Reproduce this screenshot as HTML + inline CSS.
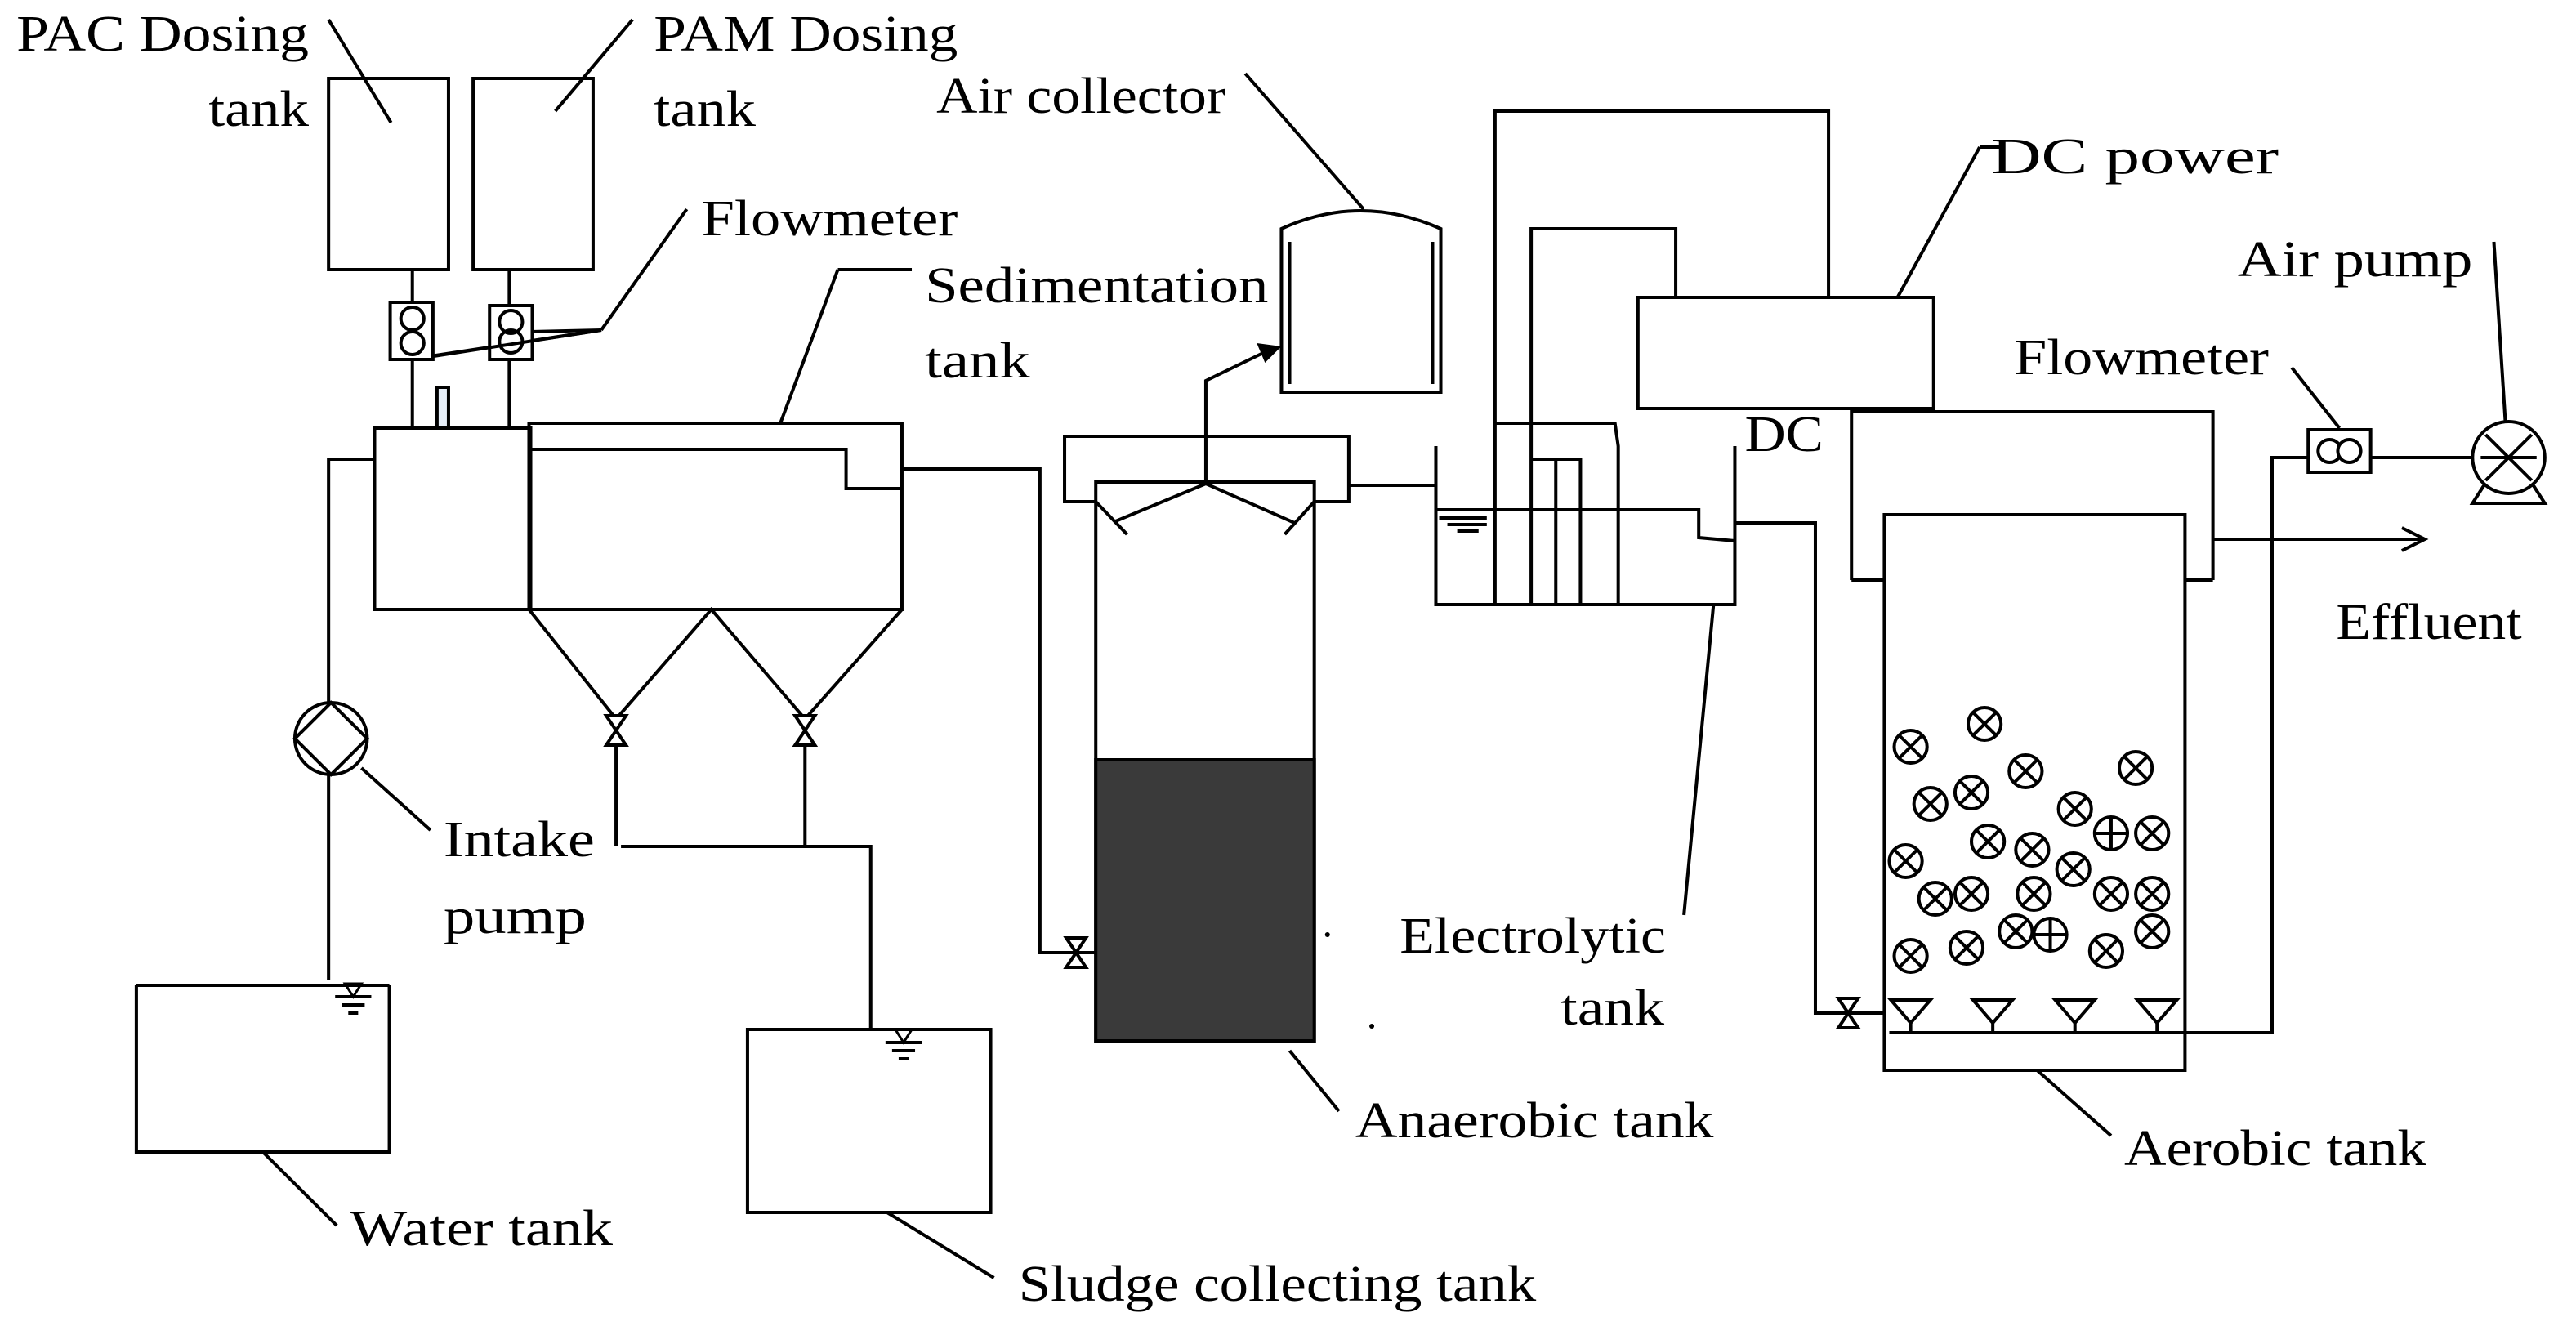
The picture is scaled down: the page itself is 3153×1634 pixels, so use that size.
<!DOCTYPE html>
<html><head><meta charset="utf-8"><style>
html,body{margin:0;padding:0;background:#fff;}
svg{display:block;}
text{font-family:"Liberation Serif",serif;font-size:31px;fill:#000;}
</style></head><body>
<svg width="3153" height="1634" viewBox="0 0 1568 817" preserveAspectRatio="none" xmlns="http://www.w3.org/2000/svg">
<defs>
<g id="m"><circle r="10" fill="#fff" stroke="#000" stroke-width="2"/><line x1="-7" y1="-7" x2="7" y2="7" stroke="#000" stroke-width="2"/><line x1="-7" y1="7" x2="7" y2="-7" stroke="#000" stroke-width="2"/></g>
<g id="mp"><circle r="10" fill="#fff" stroke="#000" stroke-width="2"/><line x1="-10" y1="0" x2="10" y2="0" stroke="#000" stroke-width="2"/><line x1="0" y1="-10" x2="0" y2="10" stroke="#000" stroke-width="2"/></g>
<g id="vv"><path d="M-6,-9 L6,-9 L-6,9 L6,9 Z" fill="#fff" stroke="#000" stroke-width="2"/></g>
<g id="wl"><line x1="-11" y1="0" x2="11" y2="0" stroke="#000" stroke-width="2"/><line x1="-7" y1="5" x2="7" y2="5" stroke="#000" stroke-width="2"/><line x1="-3" y1="10" x2="3" y2="10" stroke="#000" stroke-width="2"/><path d="M0,0 L-5,-8 L5,-8 Z" fill="none" stroke="#000" stroke-width="1.5"/></g>
<g id="df"><path d="M-12,0 L12,0 L0,14 Z" fill="#fff" stroke="#000" stroke-width="2"/><line x1="0" y1="14" x2="0" y2="20" stroke="#000" stroke-width="2"/></g>
</defs>
<g fill="none" stroke="#000" stroke-width="2">
<!-- dosing tanks -->
<rect x="200" y="48" width="73" height="117"/>
<rect x="288" y="48" width="73" height="117"/>
<line x1="200" y1="12" x2="238" y2="75"/>
<line x1="385" y1="12" x2="338" y2="68"/>
<line x1="251" y1="165" x2="251" y2="262"/>
<line x1="310" y1="165" x2="310" y2="262"/>
<line x1="418" y1="128" x2="366" y2="202"/>
<line x1="366" y1="202" x2="262" y2="218"/>
<line x1="366" y1="202" x2="323" y2="203"/>
<!-- mixing + sedimentation -->
<rect x="228" y="262" width="95" height="111"/>
<rect x="266" y="237" width="7" height="25" fill="#e6eef8"/>
<rect x="322" y="259" width="227" height="114"/>
<polyline points="323,275 515,275 515,299 549,299"/>
<line x1="475" y1="259" x2="510" y2="165"/>
<line x1="510" y1="165" x2="555" y2="165"/>
<polyline points="322,373 375,440 433,373 490,440 549,373"/>
<line x1="375" y1="440" x2="375" y2="518"/>
<line x1="490" y1="440" x2="490" y2="518"/>
<polyline points="378,518 530,518 530,630"/>
<rect x="455" y="630" width="148" height="112"/>
<line x1="540" y1="742" x2="605" y2="782"/>
<!-- intake -->
<polyline points="228,281 200,281 200,600"/>
<circle cx="201.5" cy="452" r="22" fill="#fff"/>
<path d="M201.5,430 L223.5,452 L201.5,474 L179.5,452 Z"/>
<line x1="220" y1="470" x2="262" y2="508"/>
<polyline points="83,603 83,705 237,705 237,603"/>
<line x1="83" y1="603" x2="237" y2="603"/>
<line x1="160" y1="705" x2="205" y2="750"/>
<!-- to anaerobic -->
<polyline points="549,287 633,287 633,583 668,583"/>
<polyline points="667,307 648,307 648,267 821,267 821,307 800,307"/>
<rect x="667" y="295" width="133" height="342"/>
<rect x="667" y="465" width="133" height="172" fill="#3a3a3a"/>
<polyline points="679,319 734,296 788,320"/>
<line x1="667" y1="307" x2="686" y2="327"/>
<line x1="800" y1="307" x2="782" y2="327"/>
<polyline points="734,296 734,233 775,213"/>
<path d="M780,140 Q828,118 877,140 L877,240 L780,240 Z" fill="#fff"/>
<line x1="785" y1="148" x2="785" y2="235"/>
<line x1="872" y1="148" x2="872" y2="235"/>
<line x1="758" y1="45" x2="830" y2="128"/>
<line x1="785" y1="643" x2="815" y2="680"/>
<line x1="821" y1="297" x2="874" y2="297"/>
<!-- electrolytic -->
<polyline points="874,273 874,370 1056,370 1056,273"/>
<polyline points="874,312 1034,312 1034,329 1056,331"/>
<polyline points="910,370 910,68 1113,68 1113,182"/>
<polyline points="932,370 932,140 1020,140 1020,182"/>
<polyline points="910,259 983,259 985,273 985,370"/>
<polyline points="932,281 962,281 962,370"/>
<line x1="947" y1="281" x2="947" y2="370"/>
<rect x="997" y="182" width="180" height="68" fill="#fff"/>
<line x1="1155" y1="182" x2="1205" y2="90"/>
<line x1="1205" y1="90" x2="1220" y2="90"/>
<polyline points="1056,320 1105,320 1105,620 1148,620"/>
<line x1="1043" y1="370" x2="1025" y2="560"/>
<!-- aerobic -->
<polyline points="1127,355 1127,252 1347,252 1347,355"/>
<line x1="1127" y1="355" x2="1147" y2="355"/>
<line x1="1330" y1="355" x2="1347" y2="355"/>
<rect x="1147" y="315" width="183" height="340"/>
<line x1="1347" y1="330" x2="1475" y2="330"/>
<path d="M1462,323 L1476,330 L1462,337"/>
<polyline points="1150,632 1383,632 1383,280 1405,280"/>
<line x1="1443" y1="280" x2="1505" y2="280"/>
<path d="M1512,297 L1505,308 L1549,308 L1542,297"/>
<circle cx="1527" cy="280" r="22" fill="#fff"/>
<line x1="1513" y1="266" x2="1541" y2="294"/>
<line x1="1513" y1="294" x2="1541" y2="266"/>
<line x1="1510" y1="280" x2="1544" y2="280"/>
<line x1="1518" y1="148" x2="1525" y2="258"/>
<line x1="1395" y1="225" x2="1424" y2="262"/>
<line x1="1240" y1="655" x2="1285" y2="695"/>
</g>
<path d="M765,210 L780,212 L770,222 Z" fill="#000"/>
<g fill="#fff" stroke="#000" stroke-width="2">
<rect x="237.5" y="185" width="26" height="35"/>
<circle cx="251" cy="195" r="7"/><circle cx="251" cy="210" r="7"/>
<rect x="298" y="187" width="26" height="33"/>
<circle cx="311" cy="197" r="7"/><circle cx="311" cy="209" r="7" fill="none"/>
<rect x="1405" y="263" width="38" height="26"/>
<circle cx="1418" cy="276" r="7"/><circle cx="1430" cy="276" r="7"/>
</g>
<line x1="264" y1="218" x2="366" y2="202" stroke="#000" stroke-width="2"/>
<use href="#vv" x="375" y="447"/><use href="#vv" x="490" y="447"/>
<use href="#vv" x="655" y="583"/><use href="#vv" x="1125" y="620"/>
<use href="#wl" x="550" y="638"/><use href="#wl" x="215" y="610"/>
<g stroke="#000" stroke-width="2"><line x1="876" y1="317" x2="905" y2="317"/><line x1="881" y1="321" x2="905" y2="321"/><line x1="887" y1="325" x2="900" y2="325"/></g>
<use href="#df" x="1163" y="612"/><use href="#df" x="1213" y="612"/><use href="#df" x="1263" y="612"/><use href="#df" x="1313" y="612"/>
<circle cx="808" cy="572" r="1.5" fill="#000"/><circle cx="835" cy="628" r="1.5" fill="#000"/>
<use href="#m" x="1163" y="457"/><use href="#m" x="1208" y="443"/><use href="#m" x="1233" y="472"/><use href="#m" x="1300" y="470"/>
<use href="#m" x="1175" y="492"/><use href="#m" x="1200" y="485"/><use href="#m" x="1263" y="495"/><use href="#mp" x="1285" y="510"/><use href="#m" x="1310" y="510"/>
<use href="#m" x="1160" y="527"/><use href="#m" x="1210" y="515"/><use href="#m" x="1237" y="520"/><use href="#m" x="1262" y="532"/>
<use href="#m" x="1178" y="550"/><use href="#m" x="1200" y="547"/><use href="#m" x="1238" y="547"/><use href="#m" x="1285" y="547"/><use href="#m" x="1310" y="547"/>
<use href="#m" x="1163" y="585"/><use href="#m" x="1197" y="580"/><use href="#m" x="1227" y="570"/><use href="#mp" x="1248" y="572"/><use href="#m" x="1282" y="582"/><use href="#m" x="1310" y="570"/>
<g>
<text x="10" y="31" textLength="178" lengthAdjust="spacingAndGlyphs">PAC Dosing</text>
<text x="127" y="77" textLength="61" lengthAdjust="spacingAndGlyphs">tank</text>
<text x="398" y="31" textLength="185" lengthAdjust="spacingAndGlyphs">PAM Dosing</text>
<text x="398" y="77" textLength="62" lengthAdjust="spacingAndGlyphs">tank</text>
<text x="427" y="144" textLength="156" lengthAdjust="spacingAndGlyphs">Flowmeter</text>
<text x="563" y="185" textLength="209" lengthAdjust="spacingAndGlyphs">Sedimentation</text>
<text x="563" y="231" textLength="64" lengthAdjust="spacingAndGlyphs">tank</text>
<text x="570" y="69" textLength="176" lengthAdjust="spacingAndGlyphs">Air collector</text>
<text x="1212" y="106" textLength="175" lengthAdjust="spacingAndGlyphs">DC power</text>
<text x="1362" y="169" textLength="143" lengthAdjust="spacingAndGlyphs">Air pump</text>
<text x="1226" y="229" textLength="155" lengthAdjust="spacingAndGlyphs">Flowmeter</text>
<text x="1062" y="276" textLength="48" lengthAdjust="spacingAndGlyphs">DC</text>
<text x="1422" y="391" textLength="113" lengthAdjust="spacingAndGlyphs">Effluent</text>
<text x="270" y="524" textLength="92" lengthAdjust="spacingAndGlyphs">Intake</text>
<text x="270" y="571" textLength="87" lengthAdjust="spacingAndGlyphs">pump</text>
<text x="852" y="583" textLength="162" lengthAdjust="spacingAndGlyphs">Electrolytic</text>
<text x="950" y="627" textLength="63" lengthAdjust="spacingAndGlyphs">tank</text>
<text x="825" y="696" textLength="218" lengthAdjust="spacingAndGlyphs">Anaerobic tank</text>
<text x="1293" y="713" textLength="184" lengthAdjust="spacingAndGlyphs">Aerobic tank</text>
<text x="213" y="762" textLength="160" lengthAdjust="spacingAndGlyphs">Water tank</text>
<text x="620" y="796" textLength="315" lengthAdjust="spacingAndGlyphs">Sludge collecting tank</text>
</g>
</svg>
</body></html>
